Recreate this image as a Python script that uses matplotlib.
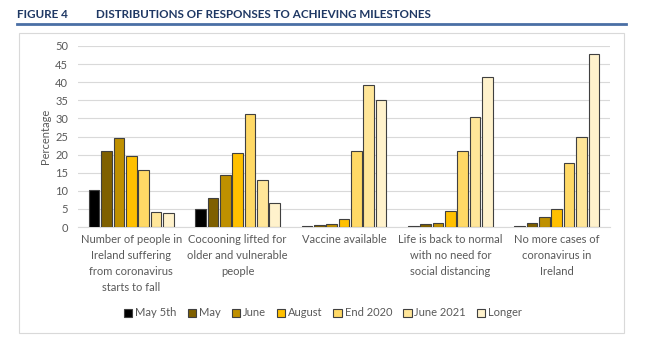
import matplotlib.pyplot as plt
from matplotlib.patches import Rectangle, Patch
from matplotlib.lines import Line2D
import numpy as np

plt.rcParams['font.family'] = ['Lato', 'DejaVu Sans']

categories = ["Number of people in\nIreland suffering\nfrom coronavirus\nstarts to fall",
              "Cocooning lifted for\nolder and vulnerable\npeople",
              "Vaccine available",
              "Life is back to normal\nwith no need for\nsocial distancing",
              "No more cases of\ncoronavirus in\nIreland"]
series = ["May 5th", "May", "June", "August", "End 2020", "June 2021", "Longer"]
may5 = [10.3, 5.0, 0.2, 0.35, 0.35]
may = [21.0, 8.1, 0.55, 0.9, 1.2]
june = [24.5, 14.5, 0.9, 1.1, 2.8]
august = [19.5, 20.4, 2.2, 4.4, 5.0]
end2020 = [15.8, 31.3, 20.9, 20.9, 17.6]
june2021 = [4.05, 12.9, 39.3, 30.4, 25.0]
longer = [4.0, 6.7, 35.1, 41.3, 47.7]
values = [may5, may, june, august, end2020, june2021, longer]
colors = ['#000000', '#7F6000', '#BF9000', '#FFC000', '#FFD966', '#FFE699', '#FFF2CC']

W, H = 650, 339
fs = 8
fig = plt.figure(figsize=(W / 100, H / 100), dpi=100)

# frame and title
fig.add_artist(Rectangle((19 / W, 1 - 333 / H), 605 / W, 300 / H, transform=fig.transFigure,
                         fill=False, edgecolor='#d9d9d9', lw=0.8))
fig.add_artist(Line2D([17 / W, 626 / W], [1 - 24 / H, 1 - 24 / H], transform=fig.transFigure,
                      color='#4A6FA5', lw=2))
fig.text(17 / W, 1 - 14 / H, "FIGURE 4", fontsize=8.4, fontweight='bold', color='#1F3864', va='center')
fig.text(96 / W, 1 - 14 / H, "DISTRIBUTIONS OF RESPONSES TO ACHIEVING MILESTONES", fontsize=8.4,
         fontweight='bold', color='#1F3864', va='center')

ax = fig.add_axes([78 / W, 1 - 227 / H, 532 / W, 181 / H])
x = np.arange(len(categories))
slot = 0.116
bw = 0.1
for i, (name, vals) in enumerate(zip(series, values)):
    ax.bar(x + (i - 3) * slot, vals, bw, color=colors[i], edgecolor='#404040', lw=0.8,
           label=name, zorder=3)

ax.set_xlim(-0.5, len(categories) - 0.5)
ax.set_ylim(0, 50)
ax.set_yticks(range(0, 51, 5))
ax.yaxis.grid(True, color='#d9d9d9', lw=0.8, zorder=0)
for s in ['top', 'right', 'left']:
    ax.spines[s].set_visible(False)
ax.spines['bottom'].set_color('#d9d9d9')
ax.set_xticks(x)
ax.set_xticklabels(categories, fontsize=fs, color='#595959', linespacing=1.55, va='top')
ax.tick_params(axis='both', length=0, labelsize=fs, labelcolor='#595959')
ax.tick_params(axis='x', pad=5)
ax.tick_params(axis='y', pad=7)
ax.set_ylabel("Percentage", fontsize=fs, color='#595959', labelpad=3)

handles = [Patch(facecolor=c, edgecolor='#404040', lw=0.8) for c in colors]
fig.legend(handles, series, loc='center', bbox_to_anchor=(323 / W, 1 - 313 / H), ncol=7,
           frameon=False, fontsize=fs, handlelength=0.75, handleheight=0.75, handletextpad=0.25,
           columnspacing=1.0, labelcolor='#595959')

fig.savefig('out.png', dpi=100)
